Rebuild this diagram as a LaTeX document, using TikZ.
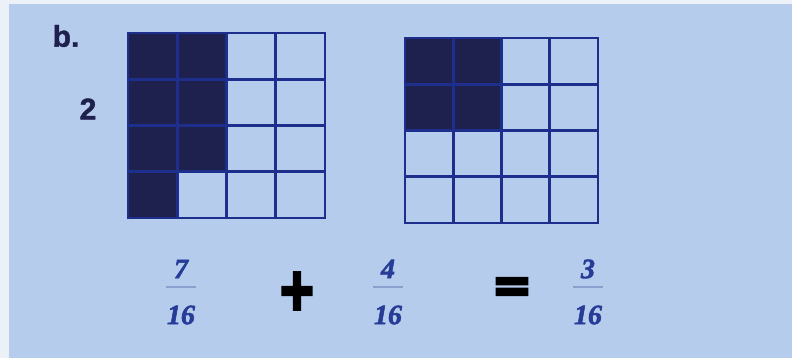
\documentclass[tikz,border=0pt]{standalone}
\usepackage{fontspec}
\newfontfamily\labfont[FakeBold=1.5]{Liberation Sans Bold}
\newfontfamily\opfont[FakeBold=6]{DejaVu Sans Bold}
\newfontfamily\penfont[FakeBold=2]{Liberation Serif Bold Italic}
\definecolor{paper}{RGB}{182,204,237}
\definecolor{margin}{RGB}{236,241,248}
\definecolor{gridink}{RGB}{30,46,140}
\definecolor{fillink}{RGB}{30,32,78}
\definecolor{pen}{RGB}{38,60,150}
\definecolor{barink}{RGB}{140,160,205}
\tikzset{
  gridline/.style={draw=gridink, line width=2.8pt, line cap=rect},
  shade/.style={fill=fillink},
  numtext/.style={text=pen, font=\penfont\fontsize{28}{28}\selectfont, inner sep=0pt},
  opsym/.style={text=black, font=\opfont\fontsize{48}{48}\selectfont, inner sep=0pt},
  fracbar/.style={draw=barink, line width=1.2pt},
  lab/.style={text=fillink, font=\labfont\fontsize{30}{30}\selectfont, inner sep=0pt}
}
\begin{document}
\begin{tikzpicture}[x=1pt,y=-1pt]
\useasboundingbox (0,0) rectangle (792,358);
\fill[margin] (0,0) rectangle (792,358);
\fill[paper] (9,4) rectangle (792,358);
% labels
\node[lab] (b) at (66,36) {b.};
\node[lab] (two) at (88,109) {2};
% grid 1
\begin{scope}[shift={(128,33)}, x=49.25pt, y=-46.25pt]
  \fill[shade] (0,0) rectangle (2,3);
  \fill[shade] (0,3) rectangle (1,4);
  \foreach \i in {0,...,4} {
    \draw[gridline] (\i,0) -- (\i,4);
    \draw[gridline] (0,\i) -- (4,\i);
  }
\end{scope}
% grid 2
\begin{scope}[shift={(405,38)}, x=48.25pt, y=-46.25pt]
  \fill[shade] (0,0) rectangle (2,2);
  \foreach \i in {0,...,4} {
    \draw[gridline] (\i,0) -- (\i,4);
    \draw[gridline] (0,\i) -- (4,\i);
  }
\end{scope}
% fractions
\node[numtext] (n1) at (181,269) {7};
\draw[fracbar] (166,287) -- (196,287);
\node[numtext] (d1) at (181,315) {16};
\node[opsym, xscale=0.95, yscale=1.2] (plus) at (297,291) {+};
\node[numtext] (n2) at (388,269) {4};
\draw[fracbar] (373,287) -- (403,287);
\node[numtext] (d2) at (388,315) {16};
\node[opsym] (eq) at (512,290) {=};
\node[numtext] (n3) at (588,269) {3};
\draw[fracbar] (573,287) -- (603,287);
\node[numtext] (d3) at (588,315) {16};
\end{tikzpicture}
\end{document}
